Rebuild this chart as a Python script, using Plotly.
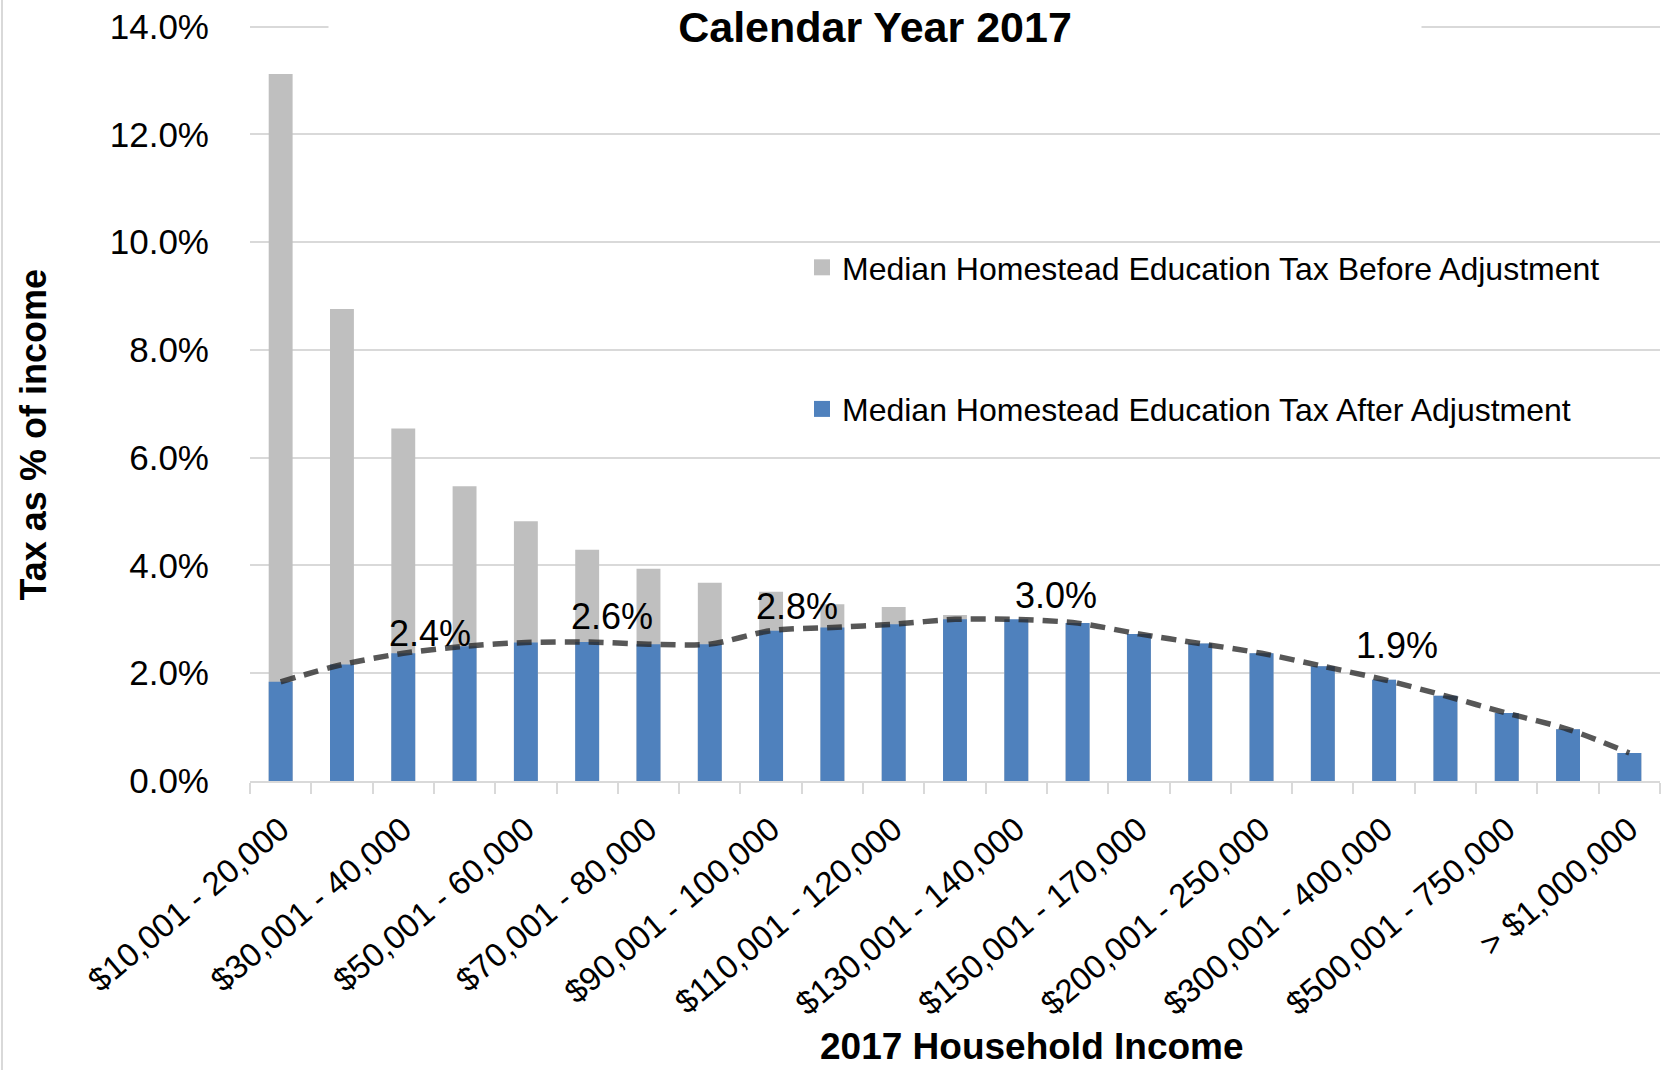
import plotly.graph_objects as go

# ---- data ----
categories = [
    "$10,001 - 20,000", "$20,001 - 30,000", "$30,001 - 40,000", "$40,001 - 50,000",
    "$50,001 - 60,000", "$60,001 - 70,000", "$70,001 - 80,000", "$80,001 - 90,000",
    "$90,001 - 100,000", "$100,001 - 110,000", "$110,001 - 120,000", "$120,001 - 130,000",
    "$130,001 - 140,000", "$140,001 - 150,000", "$150,001 - 170,000", "$170,001 - 200,000",
    "$200,001 - 250,000", "$250,001 - 300,000", "$300,001 - 400,000", "$400,001 - 500,000",
    "$500,001 - 750,000", "$750,001 - 1,000,000", "> $1,000,000",
]
before_adj = [13.12, 8.76, 6.54, 5.47, 4.82, 4.29, 3.94, 3.68, 3.51, 3.28, 3.23, 3.08,
              2.98, 2.93, 2.73, 2.55, 2.37, 2.13, 1.88, 1.58, 1.26, 0.96, 0.52]
after_adj = [1.84, 2.16, 2.37, 2.50, 2.57, 2.58, 2.54, 2.54, 2.79, 2.85, 2.91, 3.00,
             3.00, 2.93, 2.73, 2.55, 2.37, 2.13, 1.88, 1.58, 1.26, 0.96, 0.52]
label_idx = [2, 5, 8, 12, 18]
y_ticks = [0, 2, 4, 6, 8, 10, 12, 14]
y_tick_text = [f"{v:.1f}%" for v in y_ticks]
tick_labels = [c if i % 2 == 0 else "" for i, c in enumerate(categories)]

series_before = "Median Homestead Education Tax Before Adjustment"
series_after = "Median Homestead Education Tax After Adjustment"

# ---- style ----
FONT = "Liberation Sans, Arial, sans-serif"
GRAY = "#BFBFBF"
BLUE = "#4F81BD"
GRID = "#D9D9D9"
label_shifts = [(27, 20), (25, 25), (26, 24), (40, 24), (13, 34)]

fig = go.Figure()
fig.add_trace(go.Bar(x=categories, y=before_adj, marker=dict(color=GRAY, line=dict(width=0)),
                     width=0.39, showlegend=False, name=series_before))
fig.add_trace(go.Bar(x=categories, y=after_adj, marker=dict(color=BLUE, line=dict(width=0)),
                     width=0.39, showlegend=False, name=series_after))
fig.add_trace(go.Scatter(x=categories, y=after_adj, mode="lines", showlegend=False,
                         line=dict(color="rgba(40,40,40,0.78)", width=5.5, dash="15px,9px",
                                   shape="spline", smoothing=0.8)))
# legend entries
fig.add_trace(go.Scatter(x=[None], y=[None], mode="markers", name=series_before,
                         legendgroup="a",
                         marker=dict(symbol="square", size=20, color=GRAY)))
fig.add_trace(go.Scatter(x=[None], y=[None], mode="markers", name=series_after,
                         legendgroup="b",
                         marker=dict(symbol="square", size=20, color=BLUE)))

annotations = []
for (i, (dx, dy)) in zip(label_idx, label_shifts):
    annotations.append(dict(x=categories[i], y=after_adj[i], xref="x", yref="y",
                            text=f"{after_adj[i]:.1f}%", showarrow=False,
                            xshift=dx, yshift=dy,
                            font=dict(family=FONT, size=36, color="black")))
annotations.append(dict(x=0.4433, y=0.998, xref="paper", yref="paper", text="Calendar Year 2017",
                        showarrow=False, xanchor="center", yanchor="middle", width=1092,
                        bgcolor="white", borderpad=0,
                        font=dict(family=FONT, size=43, color="black", weight="bold")))
annotations.append(dict(x=0.5546, y=-0.3512, xref="paper", yref="paper",
                        text="2017 Household Income", showarrow=False,
                        xanchor="center", yanchor="middle",
                        font=dict(family=FONT, size=37, color="black", weight="bold")))
annotations.append(dict(x=-0.1532, y=0.4583, xref="paper", yref="paper",
                        text="Tax as % of income", showarrow=False, textangle=-90,
                        xanchor="center", yanchor="middle",
                        font=dict(family=FONT, size=36, color="black", weight="bold")))

fig.update_layout(
    width=1663, height=1070,
    margin=dict(l=250, r=3, t=25, b=289.4),
    paper_bgcolor="white", plot_bgcolor="white",
    barmode="overlay",
    font=dict(family=FONT, color="black"),
    annotations=annotations,
    shapes=[dict(type="line", xref="paper", yref="paper", x0=-0.1759, x1=-0.1759,
                 y0=-0.3838, y1=1.0351, line=dict(color=GRID, width=2))],
    legend=dict(x=0.3915, y=0.7156, xanchor="left", yanchor="top",
                bgcolor="rgba(0,0,0,0)", traceorder="grouped", tracegroupgap=97,
                font=dict(family=FONT, size=32, color="black")),
    xaxis=dict(type="category", tickvals=categories, ticktext=tick_labels,
               tickangle=-40, tickfont=dict(family=FONT, size=33, color="black"),
               showline=True, linecolor=GRID, linewidth=2,
               ticks="outside", ticklen=11, tickwidth=2, tickcolor=GRID,
               tickson="boundaries", showgrid=False, ticklabelstandoff=14,
               range=[-0.5, len(categories) - 0.5]),
    yaxis=dict(range=[0, 14.03], tickvals=y_ticks, ticktext=y_tick_text,
               tickfont=dict(family=FONT, size=35, color="black"),
               showgrid=True, gridcolor=GRID, gridwidth=2, zeroline=False,
               showline=False, ticklabelstandoff=40),
)

fig.write_html("out.html", config={"displayModeBar": False},
               post_script="document.body.style.margin='0';document.body.style.overflow='hidden';")
